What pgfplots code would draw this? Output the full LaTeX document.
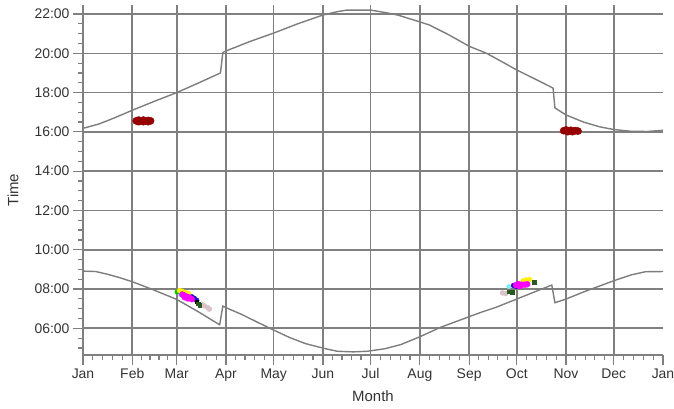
\documentclass[border=0pt]{standalone}
\usepackage{fontspec}
\setmainfont{Liberation Sans}
\usepackage{pgfplots}
\pgfplotsset{compat=1.18}
\definecolor{gridgray}{RGB}{128,128,128}
\definecolor{curvegray}{RGB}{125,125,125}
\definecolor{blobred}{RGB}{150,0,0}
\definecolor{ptgreen}{RGB}{0,200,0}
\definecolor{ptyellow}{RGB}{255,240,0}
\definecolor{ptmagenta}{RGB}{255,0,255}
\definecolor{ptblue}{RGB}{20,20,200}
\definecolor{ptdkgreen}{RGB}{40,90,30}
\definecolor{ptpink}{RGB}{215,195,200}
\definecolor{ptcyan}{RGB}{120,240,240}
\begin{document}
\begin{tikzpicture}
\path[use as bounding box] (-83bp,-54bp) rectangle (591bp,355bp);
\begin{axis}[
  at={(0,0)}, anchor=south west,
  scale only axis, width=580bp, height=350bp,
  xmin=0, xmax=365, ymin=4.64, ymax=22.46,
  axis x line=bottom, axis y line=left,
  axis line style={gridgray, line width=1.4bp, -},
  xtick={0,31,59,90,120,151,181,212,243,273,304,334},
  xticklabels={Jan,Feb,Mar,Apr,May,Jun,Jul,Aug,Sep,Oct,Nov,Dec},
  extra x ticks={365}, extra x tick labels={Jan},
  extra x tick style={grid=none},
  minor xtick={6.2,12.4,18.6,24.8,36.6,42.2,47.8,53.4,65.2,71.4,77.6,83.8,96,102,108,114,126.2,132.4,138.6,144.8,157,163,169,175,187.2,193.4,199.6,205.8,218.2,224.4,230.6,236.8,249,255,261,267,279.2,285.4,291.6,297.8,310,316,322,328,340.2,346.4,352.6,358.8},
  ytick={6,8,10,12,14,16,18,20,22},
  yticklabels={06:00,08:00,10:00,12:00,14:00,16:00,18:00,20:00,22:00},
  minor ytick={5,5.5,6.5,7,7.5,8.5,9,9.5,10.5,11,11.5,12.5,13,13.5,14.5,15,15.5,16.5,17,17.5,18.5,19,19.5,20.5,21,21.5},
  tick align=outside,
  major tick length=10bp, minor tick length=5bp,
  every tick/.style={gridgray, line width=1.2bp},
  grid=major,
  major grid style={gridgray, line width=1.6bp},
  tick label style={font=\fontsize{14}{16}\selectfont, text=black!80},
  /pgf/number format/assume math mode=true,
  xlabel={Month}, ylabel={Time},
  xlabel style={font=\fontsize{15}{17}\selectfont, text=black!80, at={(axis description cs:0.5,0)}, anchor=north, yshift=-32bp},
  ylabel style={font=\fontsize{15}{17}\selectfont, text=black!80, at={(axis description cs:-0.1052,0.471)}, anchor=south},
]
% sunset
\addplot[curvegray, line width=1.4bp] coordinates {
(0,16.18)(10,16.40)(20,16.72)(31,17.10)(45,17.56)(59,18.00)(73,18.50)(86.5,19.00)(88,20.04)(90,20.12)(105,20.60)(120,21.03)(135,21.50)(151,21.95)(160,22.12)(166,22.20)(181,22.20)(190,22.08)(198,21.95)(212,21.60)(218,21.44)(230,20.95)(243,20.36)(254,20.00)(263,19.60)(273,19.15)(285,18.67)(295.8,18.23)(297,17.22)(304,16.86)(315,16.50)(325,16.26)(334,16.12)(345,16.03)(355,16.02)(365,16.08)
};
% sunrise
\addplot[curvegray, line width=1.4bp] coordinates {
(0,8.91)(8,8.89)(15,8.76)(23,8.58)(31,8.37)(43,8.00)(59,7.47)(73,6.82)(86,6.18)(88,7.13)(90,7.05)(100,6.70)(110,6.30)(120,5.91)(130,5.53)(140,5.22)(151,4.99)(160,4.83)(170,4.80)(179,4.83)(190,4.96)(200,5.17)(212,5.57)(225,6.05)(243,6.59)(250,6.80)(260,7.07)(273,7.49)(285,7.88)(295,8.20)(297,7.30)(304,7.49)(315,7.85)(325,8.15)(334,8.42)(345,8.72)(354,8.88)(365,8.89)
};
% red blobs
\addplot[only marks, mark=*, mark size=3.6bp, blobred, mark options={draw=blobred, fill=blobred}] coordinates {
(33.5,16.56)(35,16.60)(36.5,16.56)(38,16.60)(39.5,16.56)(41,16.58)(42.5,16.56)(35,16.52)(38,16.52)(41,16.52)
(302.5,16.06)(304,16.10)(305.5,16.05)(307,16.08)(308.5,16.04)(310,16.06)(311.5,16.04)(305,16.01)(308,16.01)
};
% March & October clusters
\addplot[only marks, mark=*, mark size=2.2bp, ptcyan] coordinates {(61,7.72)(268,8.12)};
\addplot[only marks, mark=*, mark size=2.4bp, ptgreen] coordinates {(59.3,7.85)};
\addplot[only marks, mark=*, mark size=2.5bp, ptyellow] coordinates {(60.8,7.92)(62.5,7.88)(64.5,7.82)(66.5,7.76)(277,8.42)(279,8.46)(281,8.48)};
\addplot[only marks, mark=*, mark size=2.5bp, ptpink] coordinates {(74.5,7.22)(76.5,7.14)(78.5,7.05)(79.5,6.98)(264,7.80)(266,7.77)};
\addplot[only marks, mark=*, mark size=2.5bp, ptblue] coordinates {(68.5,7.60)(70,7.52)(71.5,7.42)(271,8.18)(272.5,8.14)};
\addplot[only marks, mark=*, mark size=3bp, ptmagenta] coordinates {(62.5,7.72)(64,7.66)(65.5,7.60)(67,7.55)(68.5,7.48)(64,7.58)(66,7.52)(272.5,8.20)(274,8.25)(276,8.22)(278,8.22)(279.5,8.24)(275,8.15)};
\addplot[only marks, mark=square*, mark size=1.8bp, black] coordinates {(71.5,7.36)};
\addplot[only marks, mark=square*, mark size=1.8bp, ptdkgreen] coordinates {(72.5,7.26)(73.5,7.18)(268,7.86)(270,7.85)(284,8.36)};
\end{axis}
\end{tikzpicture}
\end{document}
